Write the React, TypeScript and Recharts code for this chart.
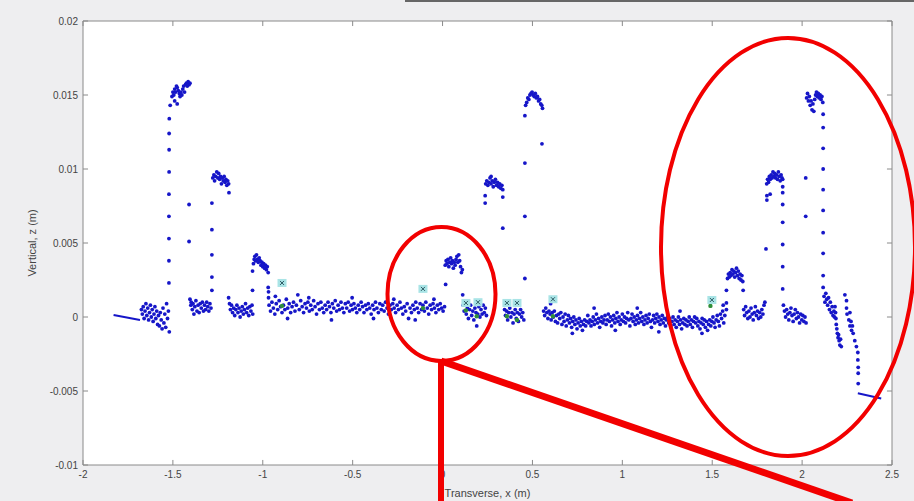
import {
  CartesianGrid,
  ReferenceLine,
  Scatter,
  ScatterChart,
  XAxis,
  YAxis,
} from "recharts";

// axis ticks
const X_TICKS = [-2, -1.5, -1, -0.5, 0, 0.5, 1, 1.5, 2, 2.5];
const Y_TICKS = [-0.01, -0.005, 0, 0.005, 0.01, 0.015, 0.02];

// points as [x (m), z (mm)]
const leftLine = [[-1.83, 0.14], [-1.683, -0.2]];
const rightLine = [[2.31, -5.15], [2.44, -5.5]];

const clusterB = [
  [-1.675, 0.5], [-1.67, 0.2], [-1.665, 0.7], [-1.66, -0.1], [-1.655, 0.4], [-1.65, 0.9],
  [-1.645, 0.1], [-1.64, 0.6], [-1.635, -0.2], [-1.63, 0.3], [-1.625, 0.8], [-1.62, 0.0],
  [-1.615, 0.5], [-1.61, -0.3], [-1.605, 0.2], [-1.6, 0.7], [-1.595, -0.1], [-1.59, 0.4],
  [-1.585, -0.5], [-1.58, 0.1], [-1.575, -0.6], [-1.57, 0.3], [-1.565, -0.2], [-1.56, -0.8],
  [-1.555, 0.6], [-1.55, -0.4], [-1.545, 0.2], [-1.54, -0.7], [-1.535, 0.9], [-1.53, -0.1],
  [-1.525, 0.4], [-1.52, -1.0],
];
const peak1 = [
  [-1.522, 2.3], [-1.522, 3.8], [-1.522, 5.3], [-1.522, 6.8], [-1.522, 8.3], [-1.521, 9.8],
  [-1.521, 11.3], [-1.521, 12.4], [-1.52, 13.4], [-1.515, 14.3], [-1.49, 14.6], [-1.476, 14.4],
  [-1.505, 14.9], [-1.5, 15.2], [-1.495, 15.0], [-1.49, 15.4], [-1.485, 15.2], [-1.48, 15.6],
  [-1.476, 15.5], [-1.47, 15.3], [-1.464, 15.1], [-1.46, 14.9], [-1.455, 15.2], [-1.45, 15.0],
  [-1.445, 15.4], [-1.44, 15.6], [-1.435, 15.2], [-1.43, 15.7], [-1.425, 15.8], [-1.42, 15.6],
  [-1.415, 15.9], [-1.41, 15.7], [-1.405, 15.8], [-1.41, 7.6], [-1.41, 5.1],
];
const clusterC = [
  [-1.405, 1.2], [-1.4, 0.8], [-1.398, 1.0], [-1.392, 0.5], [-1.388, 0.9], [-1.383, 0.2],
  [-1.378, 0.7], [-1.372, 1.1], [-1.366, 0.4], [-1.36, 0.8], [-1.354, 0.3], [-1.348, 0.9],
  [-1.342, 0.6], [-1.336, 1.0], [-1.33, 0.4], [-1.324, 0.8], [-1.318, 0.5], [-1.312, 1.0],
  [-1.306, 0.7], [-1.3, 0.4], [-1.294, 0.9], [-1.288, 0.6],
];
const peak2 = [
  [-1.283, 1.8], [-1.283, 2.7], [-1.283, 4.2], [-1.283, 5.9], [-1.283, 7.7],
  [-1.278, 9.4], [-1.272, 9.6], [-1.268, 9.2], [-1.262, 9.5], [-1.256, 9.8], [-1.25, 9.4],
  [-1.245, 9.7], [-1.24, 9.3], [-1.235, 9.5], [-1.23, 9.0], [-1.225, 9.4], [-1.22, 9.2],
  [-1.215, 9.5], [-1.21, 9.1], [-1.205, 9.3], [-1.2, 8.9], [-1.195, 9.2], [-1.19, 9.0],
  [-1.188, 8.4],
];
const clusterD = [
  [-1.19, 1.3], [-1.185, 0.9], [-1.18, 0.5], [-1.174, 0.8], [-1.168, 0.3], [-1.162, 0.6],
  [-1.156, 0.1], [-1.15, 0.5], [-1.144, 0.8], [-1.138, 0.3], [-1.132, 0.6], [-1.126, 0.0],
  [-1.12, 0.4], [-1.114, 0.7], [-1.108, 0.2], [-1.102, 0.5], [-1.096, 0.9], [-1.09, 0.3],
  [-1.084, 0.6], [-1.078, 0.1], [-1.072, 0.7], [-1.066, 0.4], [-1.06, 0.8], [-1.056, 0.2],
];
const peak3 = [
  [-1.057, 1.8], [-1.057, 3.1], [-1.052, 3.6], [-1.048, 3.9], [-1.044, 4.1], [-1.04, 3.8],
  [-1.035, 4.2], [-1.03, 3.9], [-1.025, 3.7], [-1.02, 4.0], [-1.015, 3.8], [-1.01, 3.5],
  [-1.005, 3.7], [-1.0, 3.4], [-0.995, 3.6], [-0.99, 3.3], [-0.985, 3.5], [-0.98, 3.2],
  [-0.975, 3.4], [-0.97, 3.0], [-0.97, 2.0], [-0.968, 1.7], [-0.968, 1.3],
];
const bandE = [
  [-0.965, 0.8], [-0.957, 0.4], [-0.949, 1.0], [-0.941, 0.6], [-0.933, 0.2], [-0.925, 0.9],
  [-0.917, 0.5], [-0.909, 1.1], [-0.901, 0.7], [-0.893, 0.3], [-0.885, 0.8], [-0.877, 0.5],
  [-0.869, 1.2], [-0.861, 0.6], [-0.853, 0.9], [-0.845, 0.3], [-0.837, 0.7], [-0.829, 1.0],
  [-0.821, 0.4], [-0.813, 0.8], [-0.805, 1.5], [-0.797, 0.5], [-0.789, 1.1], [-0.781, 0.7],
  [-0.773, 0.3], [-0.765, 0.9], [-0.757, 0.6], [-0.749, 1.0], [-0.741, 0.4], [-0.733, 0.8],
  [-0.725, 0.5], [-0.717, 1.1], [-0.709, 0.7], [-0.701, 0.2], [-0.693, 0.9], [-0.685, 0.5],
  [-0.677, 1.0], [-0.669, 0.6], [-0.661, 0.3], [-0.653, 0.8], [-0.645, 0.5], [-0.637, 1.0],
  [-0.629, 0.7], [-0.621, 0.3], [-0.613, 0.9], [-0.605, 0.6], [-0.597, 1.1], [-0.589, 0.4],
  [-0.581, 0.8], [-0.573, 0.5], [-0.565, 1.0], [-0.557, 0.6], [-0.549, 0.3], [-0.541, 0.9],
  [-0.533, 0.6], [-0.525, 1.0], [-0.517, 0.4], [-0.509, 0.8], [-0.501, 0.5], [-0.493, 0.9],
  [-0.485, 0.6], [-0.477, 0.3], [-0.469, 0.8], [-0.461, 0.5], [-0.453, 1.0], [-0.445, 0.7],
  [-0.437, 0.3], [-0.429, 0.8], [-0.421, 0.5], [-0.413, 0.9], [-0.405, 0.6], [-0.397, 0.2],
  [-0.389, 0.8], [-0.381, 0.5], [-0.373, 1.0], [-0.365, 0.6], [-0.357, 0.3], [-0.349, 0.9],
  [-0.341, 0.5], [-0.333, 0.8], [-0.325, 0.4], [-0.317, 1.0], [-0.309, 0.6], [-0.301, 0.2],
  [-0.293, 0.8], [-0.285, 0.5], [-0.277, 0.9], [-0.269, 0.6], [-0.261, 0.3], [-0.253, 0.8],
  [-0.245, 0.5], [-0.237, 1.0], [-0.229, 0.6], [-0.221, 0.2], [-0.213, 0.7], [-0.205, 0.4],
  [-0.197, 0.9], [-0.189, -0.1], [-0.181, 0.6], [-0.173, 0.3], [-0.165, 0.8], [-0.157, 0.5],
  [-0.149, 1.0], [-0.141, 0.6], [-0.133, 0.3], [-0.125, 0.9], [-0.117, 0.5], [-0.109, 0.8],
  [-0.101, 0.4], [-0.093, 1.0], [-0.085, 0.6], [-0.077, 0.2], [-0.069, 0.8], [-0.061, 0.5],
  [-0.053, 0.9], [-0.045, 0.6], [-0.037, 0.3], [-0.029, 0.8], [-0.021, 0.5], [-0.013, 0.9],
  [-0.005, 0.6], [0.003, 0.4], [0.011, 0.7],
  [-0.93, 1.4], [-0.862, -0.1], [-0.744, 1.3], [-0.618, -0.2], [-0.503, 1.3], [-0.384, -0.1],
  [-0.271, 1.2], [-0.152, -0.2], [-0.048, 1.2],
];
const peak4 = [
  [0.015, 3.5], [0.02, 3.8], [0.025, 3.6], [0.03, 3.9], [0.035, 3.4], [0.04, 3.7],
  [0.045, 4.0], [0.05, 3.6], [0.055, 3.8], [0.06, 3.3], [0.065, 3.7], [0.07, 3.5],
  [0.075, 3.9], [0.08, 4.1], [0.085, 3.7], [0.09, 4.2], [0.095, 3.8], [0.1, 3.4],
  [0.105, 3.0], [0.11, 3.2], [0.017, 2.2], [0.112, 1.5],
];
const clusterF = [
  [0.115, 0.8], [0.12, 0.4], [0.126, 0.9], [0.132, 0.2], [0.138, 0.6], [0.144, -0.1],
  [0.15, 0.5], [0.156, 0.8], [0.162, 0.1], [0.168, 0.4], [0.174, -0.2], [0.18, 0.6],
  [0.186, 0.3], [0.19, -0.6], [0.196, 0.2], [0.202, 0.7], [0.208, 0.0], [0.214, 0.5],
  [0.22, 0.2], [0.226, 0.8], [0.232, 0.3], [0.238, 0.6], [0.244, 0.1],
];
const peak5 = [
  [0.237, 7.7], [0.237, 8.2], [0.24, 9.0], [0.246, 9.2], [0.252, 8.9], [0.258, 9.1],
  [0.264, 9.4], [0.27, 9.0], [0.27, 9.5], [0.276, 9.2], [0.282, 8.8], [0.288, 9.1],
  [0.294, 9.3], [0.3, 8.9], [0.306, 9.1], [0.312, 8.8], [0.318, 9.0], [0.324, 8.7],
  [0.33, 8.9], [0.335, 8.6], [0.335, 8.1], [0.335, 6.0],
];
const clusterG = [
  [0.345, 0.5], [0.35, 0.1], [0.356, 0.4], [0.362, -0.2], [0.368, 0.3], [0.374, 0.6],
  [0.38, 0.0], [0.386, 0.3], [0.392, -0.4], [0.398, 0.2], [0.404, 0.5], [0.41, -0.1],
  [0.416, 0.3], [0.422, -0.3], [0.428, 0.2], [0.434, 0.5], [0.44, 0.0], [0.446, 0.3],
  [0.452, -0.2],
];
const peak6 = [
  [0.458, 2.6], [0.458, 6.8], [0.458, 10.4], [0.458, 13.6],
  [0.462, 14.3], [0.468, 14.5], [0.474, 14.8], [0.48, 14.7], [0.486, 15.0], [0.492, 15.1],
  [0.498, 15.2], [0.504, 15.0], [0.51, 14.9], [0.516, 15.1], [0.522, 14.8], [0.528, 14.9],
  [0.534, 14.6], [0.54, 14.7], [0.546, 14.4], [0.552, 14.3], [0.556, 14.1], [0.553, 11.7],
];
const bandH = [
  [0.562, 0.4], [0.568, 0.1], [0.574, 0.6], [0.58, 0.3], [0.586, -0.1], [0.592, 0.4],
  [0.598, 0.2], [0.604, -0.2], [0.61, 0.3], [0.616, 0.0], [0.622, 0.4], [0.628, -0.3],
  [0.634, 0.1], [0.64, -0.4], [0.646, 0.2], [0.652, -0.1], [0.658, 0.3], [0.664, -0.5],
  [0.67, 0.0], [0.676, -0.3], [0.682, 0.2], [0.688, -0.6], [0.694, -0.2], [0.7, 0.1],
  [0.706, -0.4], [0.712, -0.1], [0.718, -0.7], [0.724, -0.3], [0.73, 0.0], [0.736, -0.5],
  [0.742, -0.2], [0.748, -0.8], [0.754, -0.4], [0.76, -0.1], [0.766, -0.6], [0.772, -0.3],
  [0.778, -0.9], [0.784, -0.5], [0.79, -0.2], [0.796, -0.6], [0.802, -0.3], [0.808, 0.1],
  [0.814, -0.4], [0.82, -0.2], [0.826, -0.6], [0.832, -0.3], [0.838, 0.0], [0.844, -0.5],
  [0.85, -0.2], [0.856, 0.2], [0.862, -0.4], [0.868, -0.1], [0.874, -0.7], [0.88, -0.3],
  [0.886, 0.0], [0.892, -0.4], [0.898, -0.2], [0.904, 0.1], [0.91, -0.5], [0.916, -0.2],
  [0.922, 0.2], [0.928, -0.3], [0.934, 0.0], [0.94, -0.6], [0.946, -0.2], [0.952, 0.1],
  [0.958, -0.4], [0.964, -0.1], [0.97, 0.3], [0.976, -0.3], [0.982, 0.0], [0.988, -0.5],
  [0.994, -0.2], [1.0, 0.2], [1.006, -0.3], [1.012, 0.0], [1.018, -0.4], [1.024, -0.1],
  [1.03, 0.3], [1.036, -0.2], [1.042, -0.6], [1.048, -0.1], [1.054, 0.2], [1.06, -0.3],
  [1.066, 0.0], [1.072, -0.5], [1.078, -0.2], [1.084, 0.1], [1.09, -0.4], [1.096, -0.1],
  [1.102, 0.3], [1.108, -0.3], [1.114, 0.0], [1.12, -0.5], [1.126, -0.2], [1.132, 0.1],
  [1.138, -0.4], [1.144, -0.1], [1.15, 0.2], [1.156, -0.3], [1.162, -0.7], [1.168, -0.2],
  [1.174, 0.1], [1.18, -0.4], [1.186, -0.1], [1.192, 0.2], [1.198, -0.3], [1.204, 0.0],
  [1.21, -0.5], [1.216, -0.2], [1.222, 0.1], [1.228, -0.4], [1.234, -0.1], [1.24, -0.6],
  [1.246, -0.2], [1.252, 0.0], [1.258, -0.4], [1.264, -0.1], [1.27, -0.6], [1.276, -0.3],
  [1.282, 0.0], [1.288, -0.5], [1.294, -0.2], [1.3, -0.7], [1.306, -0.3], [1.312, 0.0],
  [1.318, -0.5], [1.324, -0.2], [1.33, -0.8], [1.336, -0.4], [1.342, -0.1], [1.348, -0.5],
  [1.354, -0.2], [1.36, -0.6], [1.366, -0.3], [1.372, 0.0], [1.378, -0.5], [1.384, -0.2],
  [1.39, -0.7], [1.396, -0.3], [1.402, 0.0], [1.408, -0.4], [1.414, -0.1], [1.42, -0.6],
  [1.426, -0.3], [1.432, -0.8], [1.438, -0.4], [1.444, -0.1], [1.45, -0.5], [1.456, -0.2],
  [1.462, -0.7], [1.468, -0.3], [1.474, -0.9], [1.48, -0.5], [1.486, -0.2], [1.492, -0.6],
  [1.498, -0.3], [1.504, 0.0], [1.51, -0.4], [1.516, -0.7], [1.522, -0.2], [1.528, 0.1],
  [1.534, -0.3], [1.54, -0.6], [1.546, 0.2], [1.552, -0.1], [1.558, 0.4], [1.564, -0.4],
  [1.57, 0.1],
  [0.601, 0.9], [0.722, -1.1], [0.843, 0.6], [0.961, -0.9], [1.083, 0.6], [1.203, -1.0],
  [1.321, 0.4], [1.443, -1.1], [1.561, 0.8],
];
const peak7 = [
  [1.579, 0.5], [1.579, 0.95], [1.579, 1.8],
  [1.585, 2.6], [1.59, 2.9], [1.595, 2.7], [1.6, 3.0], [1.605, 2.8], [1.61, 3.2],
  [1.615, 2.9], [1.62, 3.1], [1.625, 2.7], [1.63, 3.0], [1.635, 3.3], [1.64, 2.8],
  [1.645, 3.1], [1.65, 2.6], [1.655, 2.9], [1.66, 2.5], [1.665, 2.8], [1.67, 2.4],
  [1.672, 1.8],
];
const clusterI = [
  [1.675, 0.5], [1.68, 0.1], [1.686, 0.7], [1.692, 0.3], [1.698, -0.1], [1.704, 0.4],
  [1.71, 0.0], [1.716, 0.6], [1.722, 0.2], [1.728, -0.2], [1.734, 0.3], [1.74, 0.7],
  [1.746, 0.1], [1.752, 0.4], [1.758, -0.1], [1.764, 0.3], [1.77, 0.0], [1.776, 0.5],
  [1.782, 0.2], [1.788, 0.8], [1.793, 1.0], [1.799, 4.6],
];
const peak8 = [
  [1.803, 9.0], [1.808, 9.3], [1.813, 9.1], [1.818, 9.5], [1.823, 9.3], [1.828, 9.6],
  [1.833, 9.4], [1.838, 9.8], [1.843, 9.5], [1.848, 9.7], [1.853, 9.4], [1.858, 9.6],
  [1.863, 9.3], [1.868, 9.8], [1.873, 9.5], [1.878, 9.2], [1.883, 9.6], [1.888, 9.4],
  [1.804, 8.2], [1.804, 7.9], [1.822, 8.3],
  [1.892, 9.3], [1.892, 8.8], [1.892, 8.4], [1.892, 7.6], [1.892, 6.4], [1.892, 4.9],
  [1.892, 3.4], [1.892, 1.9],
];
const clusterJ = [
  [1.896, 0.8], [1.902, 0.4], [1.908, 0.0], [1.914, 0.5], [1.92, 0.2], [1.926, -0.2],
  [1.932, 0.3], [1.938, 0.6], [1.944, 0.1], [1.95, -0.3], [1.956, 0.2], [1.962, 0.5],
  [1.968, -0.1], [1.974, 0.3], [1.98, 0.0], [1.986, -0.4], [1.992, 0.2], [1.998, -0.2],
  [2.004, 0.1], [2.01, -0.3], [2.016, 0.0], [2.022, -0.4],
];
const peak9 = [
  [2.02, 9.4], [2.02, 6.8],
  [2.025, 14.8], [2.03, 15.1], [2.035, 14.6], [2.04, 14.9], [2.045, 14.3], [2.05, 14.6],
  [2.055, 14.0], [2.06, 14.4], [2.065, 13.9], [2.07, 14.7], [2.075, 15.0], [2.08, 15.2],
  [2.085, 14.9], [2.09, 15.1], [2.095, 14.8], [2.1, 15.0], [2.105, 14.7], [2.11, 14.9],
  [2.115, 14.5],
  [2.117, 13.7], [2.117, 12.8], [2.117, 11.4], [2.117, 10.0], [2.117, 8.6], [2.117, 7.2],
  [2.117, 5.7], [2.117, 4.3], [2.117, 2.8], [2.117, 2.0],
];
const edgeK = [
  [2.122, 1.4], [2.127, 1.0], [2.132, 1.6], [2.137, 1.2], [2.142, 0.8], [2.147, 1.3],
  [2.152, 0.5], [2.157, 1.0], [2.162, 0.3], [2.167, 0.7], [2.172, 0.1], [2.177, 0.4],
  [2.18, 0.0], [2.183, 0.7], [2.186, 0.3], [2.188, -0.1], [2.19, -0.5], [2.193, -0.8],
  [2.196, -1.1], [2.2, -1.4], [2.203, -1.2], [2.206, -1.6], [2.21, -1.9], [2.214, -1.5],
  [2.218, -2.0],
  [2.238, 1.5], [2.247, 1.1], [2.247, 0.6], [2.25, 0.2], [2.26, -0.2], [2.266, -0.6],
  [2.266, 0.3], [2.272, -0.3], [2.28, -0.6], [2.275, -0.9], [2.284, -1.1], [2.293, -1.6],
  [2.302, -2.0], [2.31, -2.4], [2.31, -2.9], [2.312, -3.4], [2.312, -3.8], [2.312, -4.5],
];

// cyan "x" markers and green markers
const cyanMarks = [
  [-0.893, 2.3], [-0.109, 1.9], [0.13, 0.95], [0.197, 1.0], [0.358, 0.95], [0.414, 0.95],
  [0.614, 1.2], [1.498, 1.15],
];
const greenMarks = [
  [-0.893, 0.75], [-0.109, 0.6], [0.13, 0.45], [0.19, 0.05], [0.358, 0.05], [0.414, -0.2],
  [0.614, 0.05], [1.49, 0.75],
];

const toRows = (pts: number[][]) => pts.map(([x, z]) => ({ x, y: z / 1000 }));

const bluePoints = toRows([
  ...clusterB, ...peak1, ...clusterC, ...peak2, ...clusterD, ...peak3, ...bandE,
  ...peak4, ...clusterF, ...peak5, ...clusterG, ...peak6, ...bandH, ...peak7,
  ...clusterI, ...peak8, ...clusterJ, ...peak9, ...edgeK,
]);

const AXIS = "#8a8a8a";
const BLUE = "#1616c8";
const TICK_X = 0.028;
const TICK_Y = 0.00034;

const BlueDot = (p: any) => <circle cx={p.cx} cy={p.cy} r={1.9} fill={BLUE} />;
const GreenDot = (p: any) => <circle cx={p.cx} cy={p.cy} r={2.2} fill="#2f8f3a" />;
const CyanMark = (p: any) => (
  <g>
    <rect x={p.cx - 4.5} y={p.cy - 4} width={9} height={8} fill="#a9e4e6" />
    <path
      d={`M${p.cx - 2} ${p.cy - 2}L${p.cx + 2} ${p.cy + 2}M${p.cx + 2} ${p.cy - 2}L${p.cx - 2} ${p.cy + 2}`}
      stroke="#2c5a63"
      strokeWidth={1}
    />
  </g>
);
const NoDot = () => <g />;

const tickStyle = { fill: "#444", fontSize: 10, fontFamily: "Liberation Sans, Arial, sans-serif" };

export default function App() {
  return (
    <div
      style={{
        position: "fixed",
        left: 0,
        top: 0,
        width: 914,
        height: 501,
        background: "#eeeef0",
        overflow: "hidden",
      }}
    >
      <ScatterChart width={914} height={501} margin={{ top: 21, right: 22, bottom: 0, left: 0 }}>
        <CartesianGrid horizontal={false} vertical={false} fill="#ffffff" />
        <XAxis
          type="number"
          dataKey="x"
          domain={[-2, 2.5]}
          ticks={X_TICKS}
          allowDataOverflow
          height={36}
          tickLine={false}
          tickSize={0}
          tickMargin={6}
          axisLine={{ stroke: AXIS }}
          tick={tickStyle}
          label={{
            value: "Transverse, x (m)",
            position: "insideBottom",
            offset: 4,
            fill: "#444",
            fontSize: 11,
            fontFamily: "Liberation Sans, Arial, sans-serif",
          }}
        />
        <YAxis
          type="number"
          dataKey="y"
          domain={[-0.01, 0.02]}
          ticks={Y_TICKS}
          allowDataOverflow
          width={83}
          tickLine={false}
          tickSize={0}
          tickMargin={5}
          axisLine={{ stroke: AXIS }}
          tick={tickStyle}
          label={{
            value: "Vertical, z (m)",
            angle: -90,
            position: "insideLeft",
            offset: 32,
            fill: "#444",
            fontSize: 11,
            fontFamily: "Liberation Sans, Arial, sans-serif",
            style: { textAnchor: "middle" },
          }}
        />
        <ReferenceLine y={0.02} stroke={AXIS} ifOverflow="visible" />
        <ReferenceLine x={2.5} stroke={AXIS} ifOverflow="visible" />
        {X_TICKS.map((t) => (
          <ReferenceLine
            key={"xb" + t}
            segment={[{ x: t, y: -0.01 }, { x: t, y: -0.01 + TICK_Y }]}
            stroke={AXIS}
            ifOverflow="visible"
          />
        ))}
        {X_TICKS.map((t) => (
          <ReferenceLine
            key={"xt" + t}
            segment={[{ x: t, y: 0.02 }, { x: t, y: 0.02 - TICK_Y }]}
            stroke={AXIS}
            ifOverflow="visible"
          />
        ))}
        {Y_TICKS.map((t) => (
          <ReferenceLine
            key={"yl" + t}
            segment={[{ x: -2, y: t }, { x: -2 + TICK_X, y: t }]}
            stroke={AXIS}
            ifOverflow="visible"
          />
        ))}
        {Y_TICKS.map((t) => (
          <ReferenceLine
            key={"yr" + t}
            segment={[{ x: 2.5, y: t }, { x: 2.5 - TICK_X, y: t }]}
            stroke={AXIS}
            ifOverflow="visible"
          />
        ))}
        <Scatter data={toRows(leftLine)} line={{ stroke: BLUE, strokeWidth: 2 }} shape={NoDot} isAnimationActive={false} />
        <Scatter data={toRows(rightLine)} line={{ stroke: BLUE, strokeWidth: 2 }} shape={NoDot} isAnimationActive={false} />
        <Scatter data={bluePoints} shape={BlueDot} isAnimationActive={false} />
        <Scatter data={toRows(greenMarks)} shape={GreenDot} isAnimationActive={false} />
        <Scatter data={toRows(cyanMarks)} shape={CyanMark} isAnimationActive={false} />
      </ScatterChart>
      <div style={{ position: "absolute", left: 405, top: 0, width: 509, height: 1.5, background: "#666" }} />
      <svg
        width={914}
        height={501}
        style={{ position: "absolute", left: 0, top: 0, pointerEvents: "none" }}
      >
        <g fill="none" stroke="#f20000">
          <ellipse cx={441.5} cy={294} rx={54} ry={67} strokeWidth={4} />
          <ellipse cx={788} cy={247} rx={127} ry={209} strokeWidth={4} />
          <line x1={441} y1={361} x2={441} y2={505} strokeWidth={6} />
          <line x1={441} y1={361} x2={852} y2={503} strokeWidth={7} />
        </g>
      </svg>
    </div>
  );
}
